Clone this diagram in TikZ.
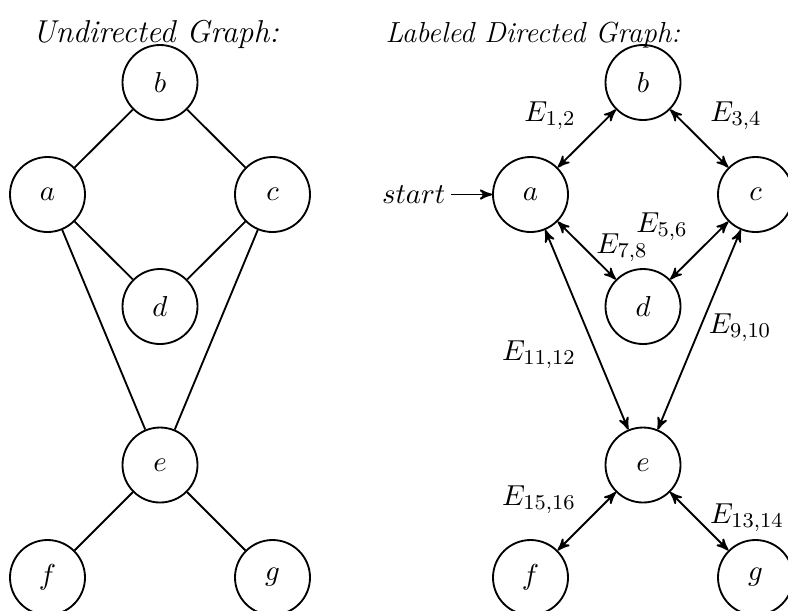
\documentclass[tikz,border=0pt]{standalone}
\usetikzlibrary{arrows}
\begin{document}
\begin{tikzpicture}[x=0.37937pt,y=-0.37937pt,
  font=\fontsize{11}{13.5}\selectfont,
  state/.style={circle,draw,line width=0.7pt,minimum size=1cm,inner sep=0pt},
  uline/.style={line width=0.7pt},
  darrow/.style={line width=0.7pt,<->,>=stealth'},
  sarrow/.style={line width=0.7pt,->,>=stealth'},
  lbl/.style={inner sep=0pt},
  ttl/.style={inner sep=0pt,anchor=base west}]
\useasboundingbox (0,0) rectangle (788,610);
% titles
\node[ttl,font=\fontsize{12}{14}\selectfont] (t1) at (32,42) {\textit{Undirected Graph:}};
\node[ttl] (t2) at (385,42) {\textit{Labeled Directed Graph:}};
% left graph
\node[state] (b1) at (160,82.5) {$b$};
\node[state] (a1) at (47.5,194.5) {$a$};
\node[state] (c1) at (272.5,194.5) {$c$};
\node[state] (d1) at (160,306.5) {$d$};
\node[state] (e1) at (160,465) {$e$};
\node[state] (f1) at (47.5,577.5) {$f$};
\node[state] (g1) at (272.5,577.5) {$g$};
\draw[uline] (a1) -- (b1);
\draw[uline] (b1) -- (c1);
\draw[uline] (a1) -- (d1);
\draw[uline] (c1) -- (d1);
\draw[uline] (a1) -- (e1);
\draw[uline] (c1) -- (e1);
\draw[uline] (e1) -- (f1);
\draw[uline] (e1) -- (g1);
% right graph
\node[state] (b2) at (643,82.5) {$b$};
\node[state] (a2) at (530.5,194.5) {$a$};
\node[state] (c2) at (755.5,194.5) {$c$};
\node[state] (d2) at (643,306.5) {$d$};
\node[state] (e2) at (643,465) {$e$};
\node[state] (f2) at (530.5,577.5) {$f$};
\node[state] (g2) at (755.5,577.5) {$g$};
\node[lbl,anchor=east] (st) at (446,194.5) {$start$};
\draw[sarrow,shorten <=2pt] (st) -- (a2);
\draw[darrow] (a2) -- (b2);
\draw[darrow] (b2) -- (c2);
\draw[darrow] (c2) -- (d2);
\draw[darrow] (a2) -- (d2);
\draw[darrow] (c2) -- (e2);
\draw[darrow] (a2) -- (e2);
\draw[darrow] (e2) -- (f2);
\draw[darrow] (e2) -- (g2);
% labels
\node[lbl] (l12) at (550,116) {$E_{1,2}$};
\node[lbl] (l34) at (736,116) {$E_{3,4}$};
\node[lbl] (l56) at (662,227) {$E_{5,6}$};
\node[lbl] (l78) at (622,248) {$E_{7,8}$};
\node[lbl] (l910) at (740,328) {$E_{9,10}$};
\node[lbl] (l1112) at (539,355) {$E_{11,12}$};
\node[lbl] (l1516) at (539,500) {$E_{15,16}$};
\node[lbl] (l1314) at (747,518) {$E_{13,14}$};
\end{tikzpicture}
\end{document}
